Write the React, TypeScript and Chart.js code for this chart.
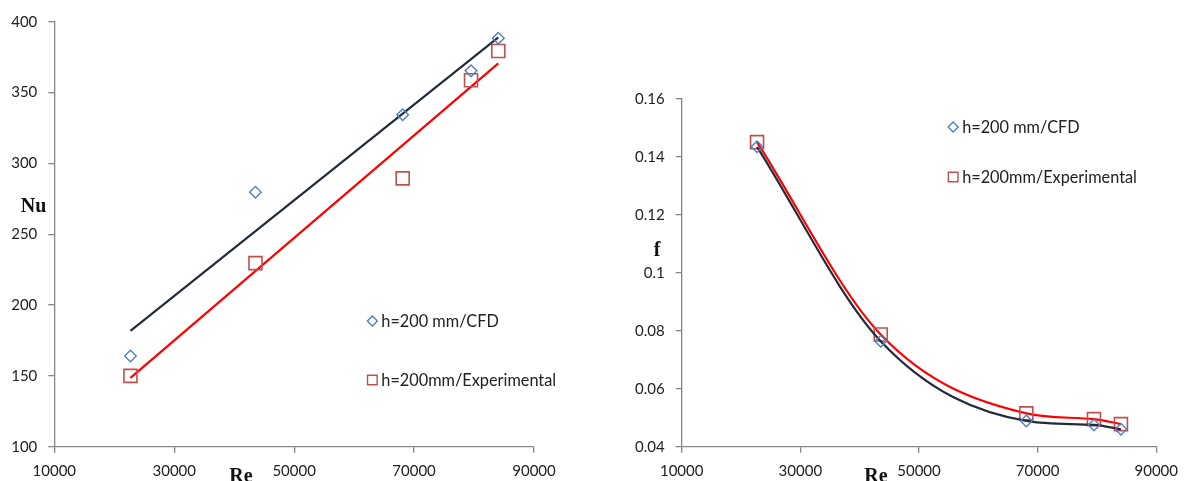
import React, { useEffect, useRef } from 'react';
import { Chart, registerables } from 'chart.js';

Chart.register(...registerables);

// ---- data ----
const reValues = [22700, 43550, 68100, 79500, 84050];
const nuCfd = [164, 279.6, 334.3, 365.3, 388.3];
const nuExp = [150, 229.6, 289.4, 358.7, 379.3];
const trendRe = [22700, 84050];
const nuCfdTrend = [181.8, 389];
const nuExpTrend = [148.6, 370.6];
const fCfd = [0.1435, 0.0764, 0.0489, 0.0475, 0.046];
const fExp = [0.1451, 0.0787, 0.0515, 0.0495, 0.0478];
const reTicks = [10000, 30000, 50000, 70000, 90000];
const nuTicks = [100, 150, 200, 250, 300, 350, 400];
const fTicks = [0.04, 0.06, 0.08, 0.1, 0.12, 0.14, 0.16];
const fTickLabels = ['0.04', '0.06', '0.08', '0.1', '0.12', '0.14', '0.16'];
const cfdLabel = 'h=200 mm/CFD';
const expLabel = 'h=200mm/Experimental';
const reTitle = 'Re';
const nuTitle = 'Nu';
const fTitle = 'f';

const BLUE = '#4F81BD';
const RED_MARK = '#C0504D';
const DARK = '#222B3A';
const RED = '#FF0000';
const AXIS = '#868686';
const TICKFONT = { family: 'Lato', size: 15 };

const pts = (xs: number[], ys: number[]) => xs.map((x, i) => ({ x, y: ys[i] }));

function axisCfg(min: number, max: number, ticks: number[], labels: (v: number) => string, fit: (s: any) => void, pad: number) {
  return {
    type: 'linear',
    min,
    max,
    afterBuildTicks: (s: any) => {
      s.ticks = ticks.map((v) => ({ value: v }));
    },
    afterFit: fit,
    grid: { drawOnChartArea: false, drawTicks: true, tickLength: 6, color: AXIS, lineWidth: 1.3 },
    border: { color: AXIS, width: 1.3 },
    ticks: {
      color: '#222',
      font: TICKFONT,
      padding: pad,
      autoSkip: false,
      maxRotation: 0,
      callback: (v: any) => labels(Number(v)),
    },
  };
}

function overlayPlugin(o: any) {
  return {
    id: 'overlay',
    afterDraw(chart: any) {
      const { ctx, chartArea: a } = chart;
      ctx.save();
      ctx.fillStyle = '#111';
      ctx.font = 'bold 20px "Liberation Serif"';
      ctx.textAlign = 'center';
      ctx.textBaseline = 'middle';
      ctx.fillText(o.yTitle, o.yTitleX, o.yTitleY);
      ctx.textBaseline = 'alphabetic';
      ctx.fillText(reTitle, o.xTitleX, o.xTitleBase);

      // legend
      const lx = a.left + a.width * o.legX;
      const items = [
        { label: cfdLabel, style: 'diamond', color: BLUE, fy: o.legY1 },
        { label: expLabel, style: 'square', color: RED_MARK, fy: o.legY2 },
      ];
      ctx.font = '16.3px Lato';
      ctx.textAlign = 'left';
      ctx.textBaseline = 'middle';
      for (const it of items) {
        const y = a.top + a.height * it.fy;
        ctx.strokeStyle = it.color;
        ctx.lineWidth = 1.4;
        ctx.beginPath();
        if (it.style === 'diamond') {
          const r = 5;
          ctx.moveTo(lx - r, y);
          ctx.lineTo(lx, y - r);
          ctx.lineTo(lx + r, y);
          ctx.lineTo(lx, y + r);
          ctx.closePath();
        } else {
          const h = 4.8;
          ctx.rect(lx - h, y - h, 2 * h, 2 * h);
        }
        ctx.stroke();
        ctx.fillStyle = '#222';
        ctx.fillText(it.label, lx + 9, y + 1);
      }
      ctx.restore();
    },
  };
}

function NuChart() {
  const ref = useRef<HTMLCanvasElement>(null);
  useEffect(() => {
    const chart = new Chart(ref.current as HTMLCanvasElement, {
      type: 'scatter',
      data: {
        datasets: [
          {
            label: cfdLabel,
            data: pts(reValues, nuCfd),
            pointStyle: 'rectRot',
            pointRadius: 5.8,
            pointBorderColor: BLUE,
            pointBackgroundColor: 'rgba(0,0,0,0)',
            pointBorderWidth: 1.4,
            showLine: false,
          },
          {
            label: expLabel,
            data: pts(reValues, nuExp),
            pointStyle: 'rect',
            pointRadius: 9.2,
            pointBorderColor: RED_MARK,
            pointBackgroundColor: 'rgba(0,0,0,0)',
            pointBorderWidth: 1.6,
            showLine: false,
          },
          {
            label: 'CFD trend',
            data: pts(trendRe, nuCfdTrend),
            showLine: true,
            borderColor: DARK,
            borderWidth: 2.2,
            pointRadius: 0,
          },
          {
            label: 'Experimental trend',
            data: pts(trendRe, nuExpTrend),
            showLine: true,
            borderColor: RED,
            borderWidth: 2.2,
            pointRadius: 0,
          },
        ],
      } as any,
      options: {
        animation: false,
        responsive: false,
        events: [],
        layout: { padding: { left: 0, top: 21.7, right: 66, bottom: 0 } },
        plugins: { legend: { display: false }, tooltip: { enabled: false } },
        scales: {
          x: axisCfg(10000, 90000, reTicks, (v) => String(v), (s: any) => { s.height = 34.3; }, 9),
          y: axisCfg(100, 400, nuTicks, (v) => String(v), (s: any) => { s.width = 54.3; }, 11),
        },
      } as any,
      plugins: [
        overlayPlugin({ yTitle: nuTitle, yTitleX: 33.5, yTitleY: 207, xTitleX: 241, xTitleBase: 482, legX: 0.663, legY1: 0.704, legY2: 0.843 }),
      ],
    });
    return () => chart.destroy();
  }, []);
  return <canvas ref={ref} width={600} height={481} style={{ width: 600, height: 481, display: 'block' }} />;
}

function FChart() {
  const ref = useRef<HTMLCanvasElement>(null);
  useEffect(() => {
    const chart = new Chart(ref.current as HTMLCanvasElement, {
      type: 'scatter',
      data: {
        datasets: [
          {
            label: cfdLabel,
            data: pts(reValues, fCfd),
            showLine: true,
            cubicInterpolationMode: 'monotone',
            borderColor: DARK,
            borderWidth: 2.2,
            pointStyle: 'rectRot',
            pointRadius: 5.8,
            pointBorderColor: BLUE,
            pointBackgroundColor: 'rgba(0,0,0,0)',
            pointBorderWidth: 1.4,
          },
          {
            label: expLabel,
            data: pts(reValues, fExp),
            showLine: true,
            cubicInterpolationMode: 'monotone',
            borderColor: RED,
            borderWidth: 2.2,
            pointStyle: 'rect',
            pointRadius: 9.2,
            pointBorderColor: RED_MARK,
            pointBackgroundColor: 'rgba(0,0,0,0)',
            pointBorderWidth: 1.6,
          },
        ],
      } as any,
      options: {
        animation: false,
        responsive: false,
        events: [],
        layout: { padding: { left: 0, top: 99, right: 23.7, bottom: 0 } },
        plugins: { legend: { display: false }, tooltip: { enabled: false } },
        scales: {
          x: axisCfg(10000, 90000, reTicks, (v) => String(v), (s: any) => { s.height = 34.3; }, 9),
          y: axisCfg(0.04, 0.16, fTicks, (v) => {
            const i = fTicks.findIndex((t) => Math.abs(t - v) < 1e-9);
            return i >= 0 ? fTickLabels[i] : '';
          }, (s: any) => { s.width = 81.7; }, 11),
        },
      } as any,
      plugins: [
        overlayPlugin({ yTitle: fTitle, yTitleX: 57, yTitleY: 251, xTitleX: 276, xTitleBase: 482, legX: 0.572, legY1: 0.0802, legY2: 0.2243 }),
      ],
    });
    return () => chart.destroy();
  }, []);
  return <canvas ref={ref} width={587} height={481} style={{ width: 587, height: 481, display: 'block' }} />;
}

export default function App() {
  return (
    <div style={{ position: 'fixed', left: 0, top: 0, width: 1187, height: 481, background: '#fff', overflow: 'hidden' }}>
      <div style={{ position: 'absolute', left: 0, top: 0 }}>
        <NuChart />
      </div>
      <div style={{ position: 'absolute', left: 600, top: 0 }}>
        <FChart />
      </div>
    </div>
  );
}
